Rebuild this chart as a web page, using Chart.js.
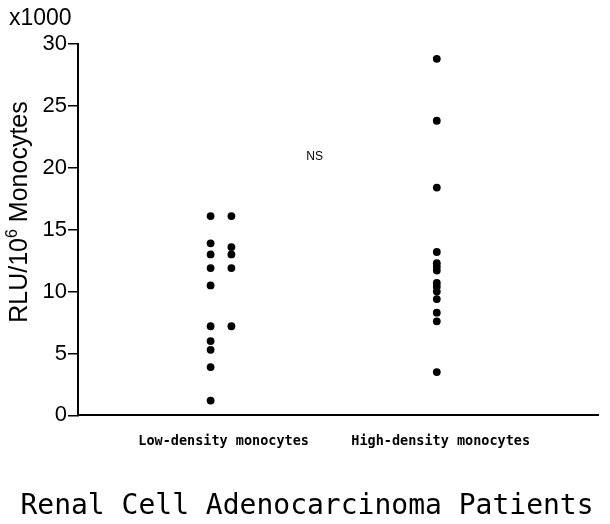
<!DOCTYPE html>
<html>
<head>
<meta charset="utf-8">
<script src="https://cdn.jsdelivr.net/npm/chart.js@4"></script>
<style>
  html, body { margin: 0; padding: 0; background: #fff; }
  #wrap { width: 610px; height: 524px; }
</style>
</head>
<body>
<div id="wrap"><canvas id="chart"></canvas></div>
<script>
// data (RLU per 10^6 monocytes, x1000)
const groups = ["Low-density monocytes", "High-density monocytes"];
const groupX = [1.12, 2.79];
const columnX = [1.02, 1.18, 2.76];
const lowDensityA = [16.1, 13.9, 13.0, 11.9, 10.5, 7.2, 6.0, 5.3, 3.9, 1.2];
const lowDensityB = [16.1, 13.6, 13.0, 11.9, 7.2];
const highDensity = [28.8, 23.8, 18.4, 13.2, 12.3, 12.0, 11.7, 10.7, 10.4, 10.0, 9.4, 8.3, 7.6, 3.5];
const yTicks = [0, 5, 10, 15, 20, 25, 30];
const chartTitle = "Renal Cell Adenocarcinoma Patients";

const toPoints = (vals, x) => vals.map((v) => ({ x, y: v }));

// extra labels: multiplier, NS mark, rotated axis title, bottom title
const annotations = {
  id: "annotations",
  afterDraw(chart) {
    const { ctx, scales } = chart;
    ctx.save();
    ctx.fillStyle = "#000";

    ctx.font = "23px 'Liberation Sans', Arial, sans-serif";
    ctx.textAlign = "left";
    ctx.textBaseline = "alphabetic";
    ctx.fillText("x1000", 9, 25);

    ctx.font = "12px 'Liberation Sans', Arial, sans-serif";
    ctx.textAlign = "center";
    ctx.textBaseline = "middle";
    ctx.fillText("NS", scales.x.getPixelForValue(1.82), scales.y.getPixelForValue(20.9));

    ctx.font = "28px 'DejaVu Sans Mono', monospace";
    ctx.fillText(chartTitle, 307, 507);

    // y title with superscript 6
    ctx.translate(20, 212);
    ctx.rotate(-Math.PI / 2);
    const big = "25px 'Liberation Sans', Arial, sans-serif";
    const small = "16px 'Liberation Sans', Arial, sans-serif";
    const a = "RLU/10", b = "6", c = " Monocytes";
    ctx.font = big;
    const wa = ctx.measureText(a).width, wc = ctx.measureText(c).width;
    ctx.font = small;
    const wb = ctx.measureText(b).width;
    let x = -(wa + wb + wc) / 2;
    ctx.textAlign = "left";
    ctx.font = big;
    ctx.fillText(a, x, 0);
    x += wa;
    ctx.font = small;
    ctx.fillText(b, x, -7);
    x += wb;
    ctx.font = big;
    ctx.fillText(c, x, 0);
    ctx.restore();
  },
};

const dot = { backgroundColor: "#000", borderColor: "#000", pointRadius: 3.9, pointBorderWidth: 0 };

new Chart(document.getElementById("chart"), {
  type: "scatter",
  data: {
    datasets: [
      { data: toPoints(lowDensityA, columnX[0]), ...dot },
      { data: toPoints(lowDensityB, columnX[1]), ...dot },
      { data: toPoints(highDensity, columnX[2]), ...dot },
    ],
  },
  options: {
    responsive: true,
    maintainAspectRatio: false,
    animation: false,
    layout: { padding: { top: 44, right: 12, left: 0, bottom: 33.6 } },
    plugins: {
      legend: { display: false },
      tooltip: { enabled: false },
    },
    scales: {
      x: {
        type: "linear",
        min: 0,
        max: 4,
        afterBuildTicks: (s) => { s.ticks = groupX.map((v) => ({ value: v })); },
        afterFit: (s) => { s.height = 75; },
        ticks: {
          callback: (v, i) => groups[i],
          color: "#000",
          font: { family: "'DejaVu Sans Mono', monospace", size: 13.5, weight: "bold" },
          padding: 18,
          maxRotation: 0,
          autoSkip: false,
        },
        grid: { display: true, drawOnChartArea: false, drawTicks: false },
        border: { display: true, color: "#000", width: 2 },
      },
      y: {
        min: 0,
        max: 30,
        afterBuildTicks: (s) => { s.ticks = yTicks.map((v) => ({ value: v })); },
        afterFit: (s) => { s.width = 78; },
        ticks: {
          color: "#000",
          font: { family: "'Liberation Sans', Arial, sans-serif", size: 22 },
          padding: 1,
        },
        grid: { display: true, drawOnChartArea: false, drawTicks: true, tickLength: 10, color: "#000", lineWidth: 1.5 },
        border: { display: true, color: "#000", width: 2 },
      },
    },
  },
  plugins: [annotations],
});
</script>
</body>
</html>
